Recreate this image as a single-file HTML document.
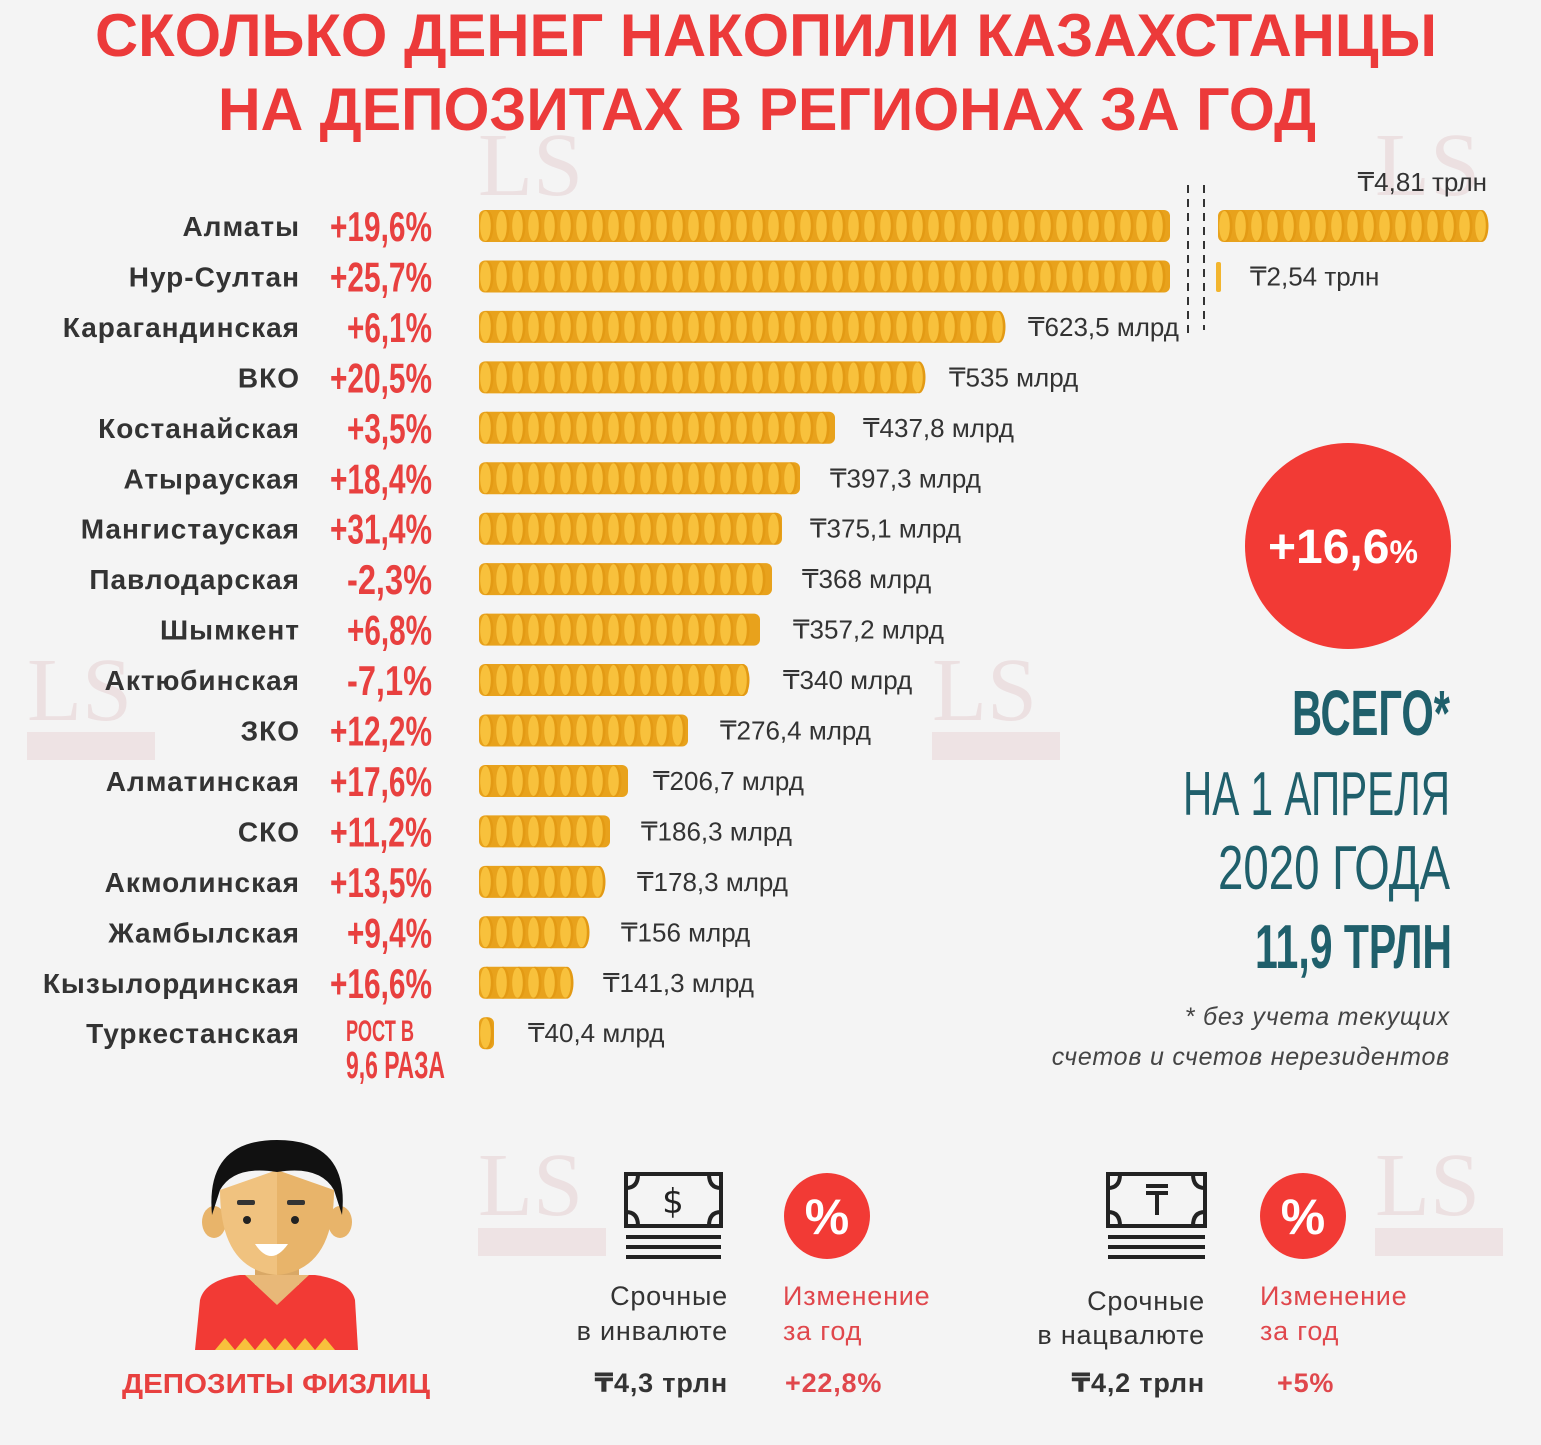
<!DOCTYPE html>
<html><head><meta charset="utf-8"><style>
html,body{margin:0;padding:0;background:#f4f4f4;}
svg{display:block;}
</style></head><body>
<svg width="1541" height="1445" viewBox="0 0 1541 1445" xmlns="http://www.w3.org/2000/svg">
<rect width="1541" height="1445" fill="#f4f4f4"/>

<!-- faint watermarks -->
<g fill="#ece0e1" font-family="Liberation Serif, serif" font-size="90">
<text x="478" y="195">LS</text><text x="1375" y="195">LS</text>
<text x="27" y="720">LS</text><text x="932" y="720">LS</text>
<text x="478" y="1215">LS</text><text x="1375" y="1215">LS</text>
</g>
<g fill="#eee3e4">
<rect x="27" y="732" width="128" height="28"/><rect x="932" y="732" width="128" height="28"/>
<rect x="478" y="1228" width="128" height="28"/><rect x="1375" y="1228" width="128" height="28"/>
</g>

<!-- title -->
<g font-family="Liberation Sans, sans-serif" font-weight="bold" fill="#ec3a3a" font-size="60">
<text x="95" y="56" textLength="1342" lengthAdjust="spacingAndGlyphs">СКОЛЬКО ДЕНЕГ НАКОПИЛИ КАЗАХСТАНЦЫ</text>
<text x="218" y="130" textLength="1098" lengthAdjust="spacingAndGlyphs">НА ДЕПОЗИТАХ В РЕГИОНАХ ЗА ГОД</text>
</g>

<g id="rows" font-family="Liberation Sans, DejaVu Sans, sans-serif"></g>

<!-- dashed -->
<g stroke="#333" stroke-width="2" stroke-dasharray="8,6">
<line x1="1188" y1="185" x2="1188" y2="335"/>
<line x1="1204" y1="185" x2="1204" y2="330"/>
</g>

<!-- circle -->
<circle cx="1348" cy="546" r="103" fill="#f23a35"/>
<text x="1268" y="563" font-family="Liberation Sans, sans-serif" font-weight="bold" font-size="48" fill="#fff">+16,6<tspan font-size="32">%</tspan></text>

<g font-family="Liberation Sans, sans-serif" fill="#1f5f6b">
<text x="1292" y="735" font-size="64" font-weight="bold" textLength="158" lengthAdjust="spacingAndGlyphs">ВСЕГО*</text>
<text x="1183" y="815" font-size="62" textLength="267" lengthAdjust="spacingAndGlyphs">НА 1 АПРЕЛЯ</text>
<text x="1218" y="889" font-size="62" textLength="232" lengthAdjust="spacingAndGlyphs">2020 ГОДА</text>
<text x="1255" y="968" font-size="62" font-weight="bold" textLength="197" lengthAdjust="spacingAndGlyphs">11,9 ТРЛН</text>
</g>
<g font-family="Liberation Sans, sans-serif" font-style="italic" font-size="25" fill="#444" text-anchor="end" letter-spacing="0.8">
<text x="1450" y="1025">* без учета текущих</text>
<text x="1450" y="1065">счетов и счетов нерезидентов</text>
</g>

<!-- person -->
<g>
<path d="M195 1350 L200 1300 Q205 1280 240 1275 L315 1275 Q350 1280 355 1300 L358 1350 Z" fill="#f23a35"/>
<path d="M215 1350 l10 -12 l10 12 l10 -12 l10 12 l10 -12 l10 12 l10 -12 l10 12 l10 -12 l10 12 l10 -12 l10 12 z" fill="#f8c13c"/>
<rect x="255" y="1250" width="44" height="35" fill="#d9a866"/>
<path d="M245 1275 L277 1305 L309 1275 Z" fill="#e8b878"/>
<ellipse cx="214" cy="1222" rx="12" ry="16" fill="#e8b46a"/>
<ellipse cx="340" cy="1222" rx="12" ry="16" fill="#e8b46a"/>
<path d="M220 1190 Q220 1270 277 1275 L277 1170 Z" fill="#f0c27f"/>
<path d="M334 1190 Q334 1270 277 1275 L277 1170 Z" fill="#e8b46a"/>
<path d="M212 1215 Q205 1140 277 1140 Q350 1140 342 1215 L334 1190 Q320 1165 277 1172 Q234 1165 220 1190 Z" fill="#111"/>
<rect x="237" y="1200" width="18" height="5" rx="2" fill="#333"/>
<rect x="287" y="1200" width="18" height="5" rx="2" fill="#333"/>
<circle cx="247" cy="1220" r="4" fill="#222"/><circle cx="295" cy="1220" r="4" fill="#222"/>
<path d="M255 1244 Q271 1268 288 1244 Z" fill="#fff"/>
</g>
<text x="122" y="1393" font-family="Liberation Sans, sans-serif" font-weight="bold" font-size="28" fill="#e8403f" textLength="308" lengthAdjust="spacingAndGlyphs">ДЕПОЗИТЫ ФИЗЛИЦ</text>

<!-- money icons -->
<g fill="none" stroke="#222" stroke-width="4">
<rect x="626" y="1174" width="95" height="52"/>
<path d="M626 1188 q12 0 12 -14 M721 1188 q-12 0 -12 -14 M626 1212 q12 0 12 14 M721 1212 q-12 0 -12 14"/>
<line x1="626" y1="1237" x2="721" y2="1237"/><line x1="626" y1="1247" x2="721" y2="1247"/><line x1="626" y1="1257" x2="721" y2="1257"/>
<rect x="1108" y="1174" width="97" height="52"/>
<path d="M1108 1188 q12 0 12 -14 M1205 1188 q-12 0 -12 -14 M1108 1212 q12 0 12 14 M1205 1212 q-12 0 -12 14"/>
<line x1="1108" y1="1237" x2="1205" y2="1237"/><line x1="1108" y1="1247" x2="1205" y2="1247"/><line x1="1108" y1="1257" x2="1205" y2="1257"/>
<path d="M1146 1186 h22 M1146 1193 h22 M1157 1193 v22"/>
</g>
<text x="673" y="1213" font-family="DejaVu Sans, sans-serif" font-size="34" fill="#222" text-anchor="middle">$</text>
<circle cx="827" cy="1216" r="43" fill="#f23a35"/>
<circle cx="1303" cy="1216" r="43" fill="#f23a35"/>
<g font-family="Liberation Sans, sans-serif" font-weight="bold" font-size="50" fill="#fff" text-anchor="middle">
<text x="827" y="1234">%</text><text x="1303" y="1234">%</text>
</g>
<g font-family="Liberation Sans, DejaVu Sans, sans-serif" font-size="27" letter-spacing="0.8">
<g fill="#333" text-anchor="end">
<text x="728" y="1305">Срочные</text><text x="728" y="1340">в инвалюте</text>
<text x="728" y="1392" font-weight="bold">₸4,3 трлн</text>
<text x="1205" y="1310">Срочные</text><text x="1205" y="1344">в нацвалюте</text>
<text x="1205" y="1392" font-weight="bold">₸4,2 трлн</text>
</g>
<g fill="#e0474c">
<text x="783" y="1305">Изменение</text><text x="783" y="1340">за год</text>
<text x="785" y="1392" font-weight="bold">+22,8%</text>
<text x="1260" y="1305">Изменение</text><text x="1260" y="1340">за год</text>
<text x="1277" y="1392" font-weight="bold">+5%</text>
</g>
</g>
</svg>
<script>
var rows=[
["Алматы","+19,6%",1170,"",0],
["Нур-Султан","+25,7%",1170,"₸2,54 трлн",1250],
["Карагандинская","+6,1%",1003,"₸623,5 млрд",1028],
["ВКО","+20,5%",922,"₸535 млрд",949],
["Костанайская","+3,5%",835,"₸437,8 млрд",863],
["Атырауская","+18,4%",800,"₸397,3 млрд",830],
["Мангистауская","+31,4%",782,"₸375,1 млрд",810],
["Павлодарская","-2,3%",772,"₸368 млрд",802],
["Шымкент","+6,8%",760,"₸357,2 млрд",793],
["Актюбинская","-7,1%",748,"₸340 млрд",783],
["ЗКО","+12,2%",688,"₸276,4 млрд",720],
["Алматинская","+17,6%",628,"₸206,7 млрд",653],
["СКО","+11,2%",610,"₸186,3 млрд",641],
["Акмолинская","+13,5%",603,"₸178,3 млрд",637],
["Жамбылская","+9,4%",587,"₸156 млрд",621],
["Кызылординская","+16,6%",571,"₸141,3 млрд",603],
["Туркестанская","",494,"₸40,4 млрд",528]];
var g=document.getElementById('rows'),ns="http://www.w3.org/2000/svg";
function el(t,a,txt){var e=document.createElementNS(ns,t);for(var k in a)e.setAttribute(k,a[k]);if(txt)e.textContent=txt;g.appendChild(e);return e;}
function bar(x1,x2,cy){
 var w=x2-x1;
 el('rect',{x:x1,y:cy-16,width:w,height:32,rx:6,fill:'#e8a21c'});
 for(var x=x1;x+12<=x2+2;x+=16){
  el('ellipse',{cx:x+8,cy:cy,rx:6.5,ry:16,fill:'#e39a14'});
  el('ellipse',{cx:x+6.5,cy:cy,rx:5.3,ry:15,fill:'#f8c13c'});
 }
}
rows.forEach(function(r,i){
 var cy=226+i*50.45;
 el('text',{x:300,y:cy+10,'text-anchor':'end','font-weight':'bold','font-size':28,'letter-spacing':1,fill:'#333'},r[0]);
 if(r[1]){var n=r[1].length;el('text',{x:432-(n*17),y:cy+15,'font-size':42,'font-weight':'bold',fill:'#e8403f',textLength:n*17,lengthAdjust:'spacingAndGlyphs'},r[1]);}
 bar(479,r[2],cy);
 if(r[3])el('text',{x:r[4],y:cy+9,'font-size':26,fill:'#333'},r[3]);
});
bar(1218,1486,226);
el('rect',{x:1216,y:262,width:5,height:30,rx:2,fill:'#f2b52e'});
el('text',{x:1487,y:191,'text-anchor':'end','font-size':26,fill:'#333'},'₸4,81 трлн');
el('text',{x:346,y:1041,'font-size':30,'font-weight':'bold',fill:'#e8403f',textLength:68,lengthAdjust:'spacingAndGlyphs'},'РОСТ В');
el('text',{x:346,y:1078,'font-size':38,'font-weight':'bold',fill:'#e8403f',textLength:99,lengthAdjust:'spacingAndGlyphs'},'9,6 РАЗА');
</script>
</body></html>
